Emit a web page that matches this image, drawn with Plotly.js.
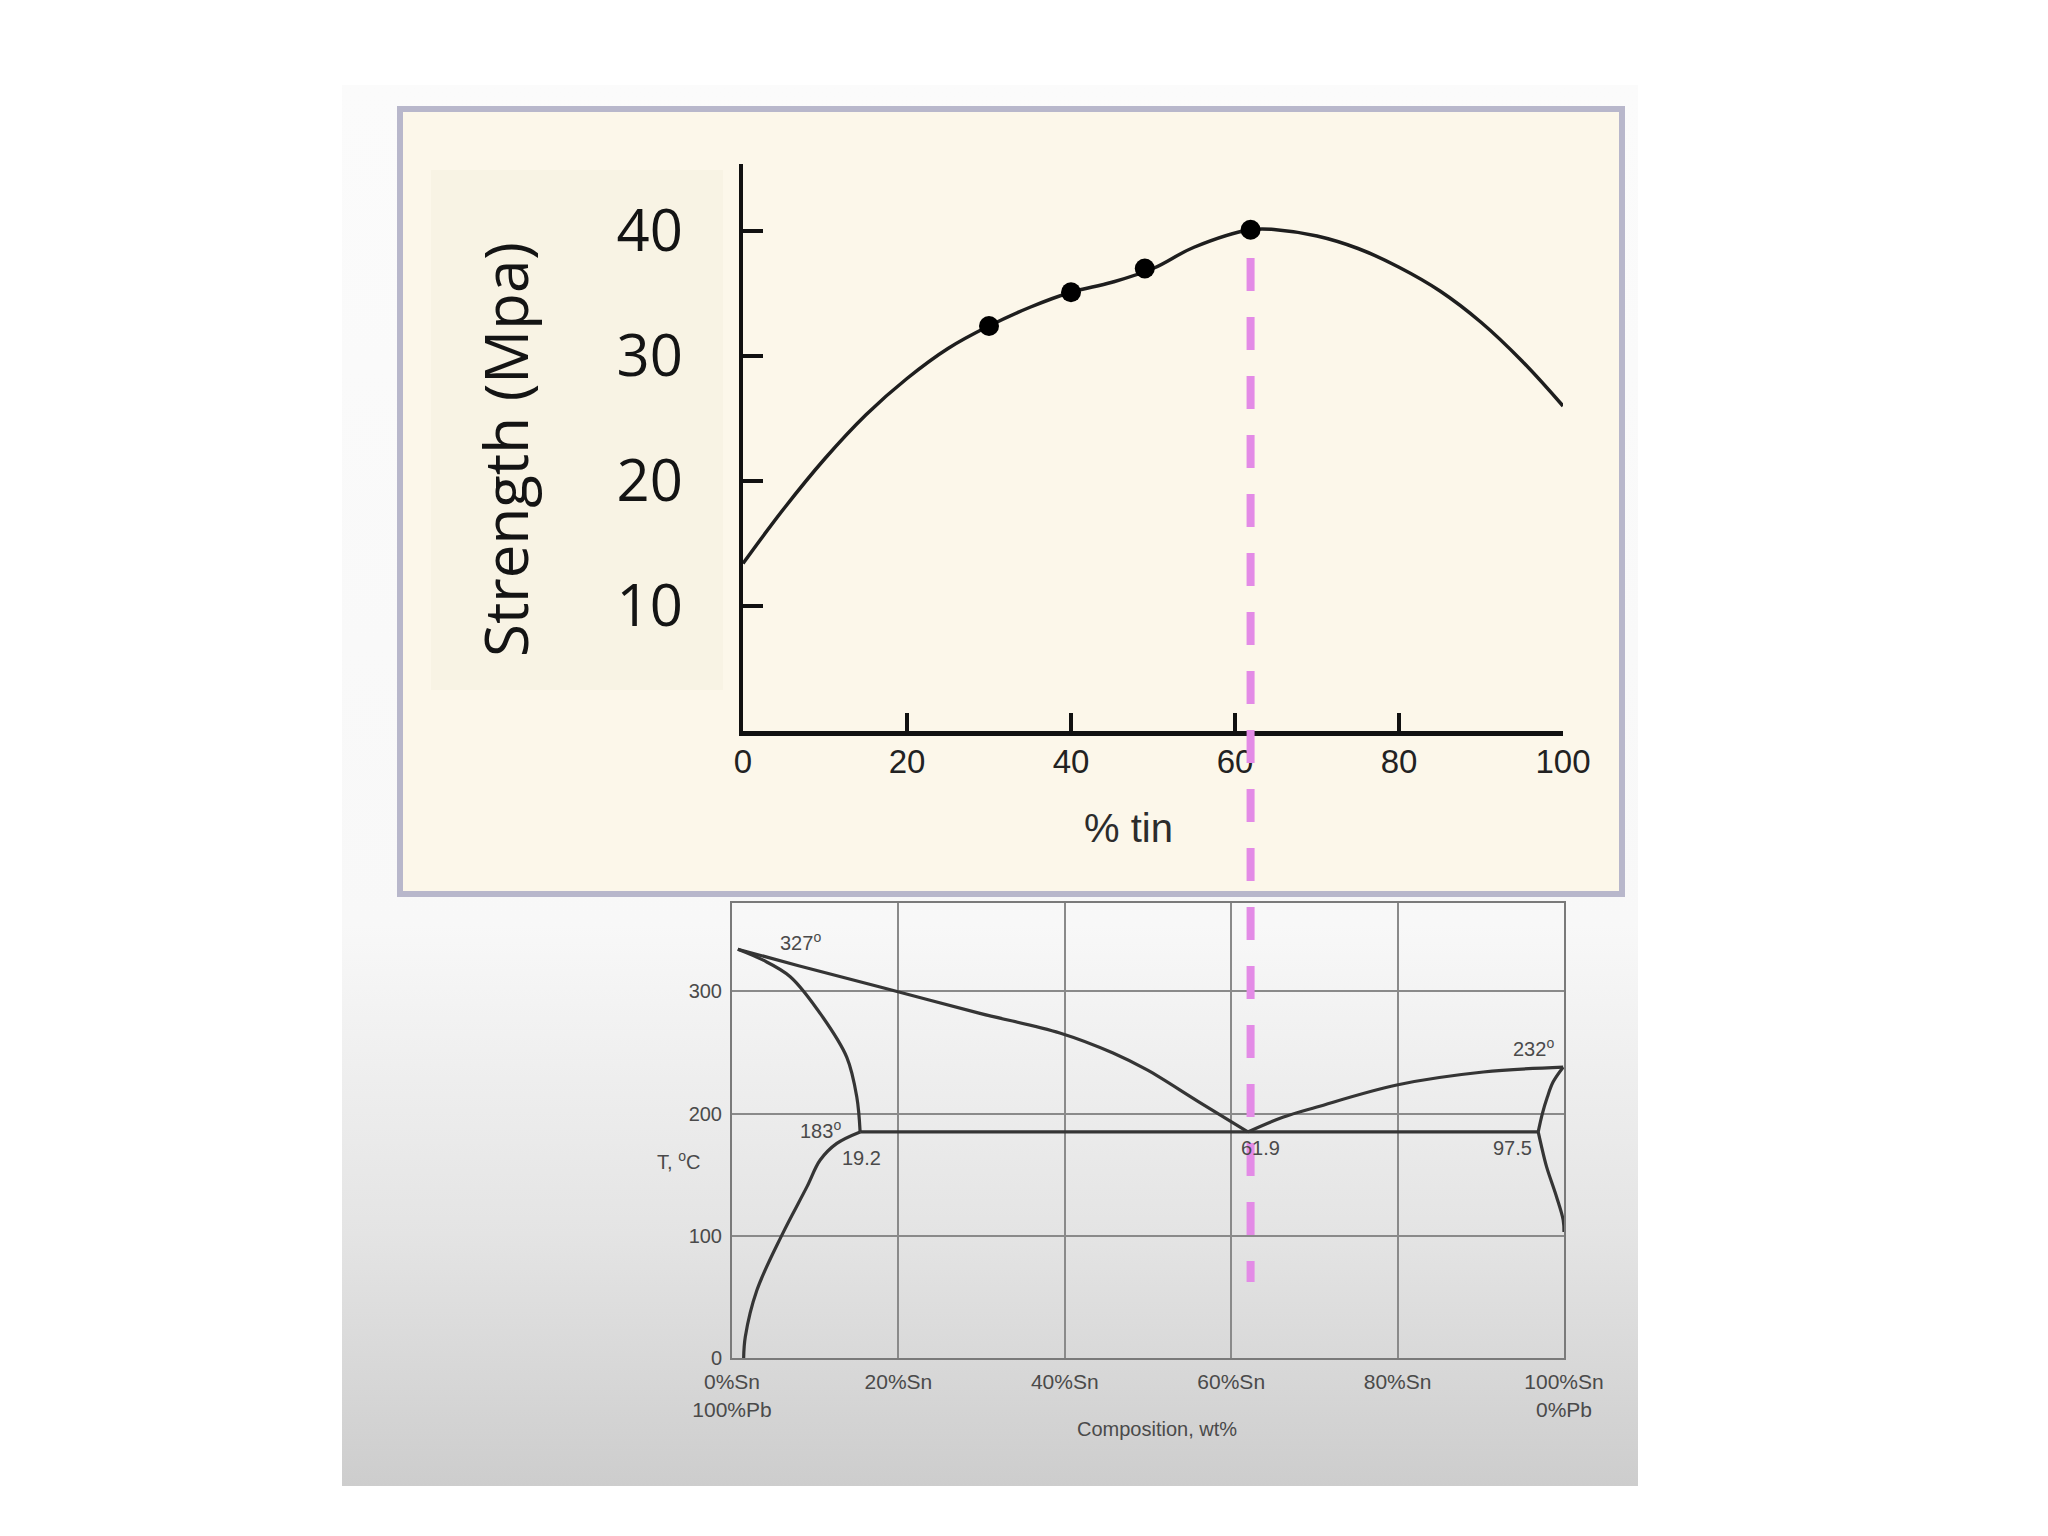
<!DOCTYPE html>
<html>
<head>
<meta charset="utf-8">
<script src="https://cdn.plot.ly/plotly-3.0.1.min.js"></script>
<style>
  html, body { margin: 0; padding: 0; background: #ffffff; }
  #wrap { position: relative; width: 2048px; height: 1536px; overflow: hidden; }
  #slide { position: absolute; left: 342px; top: 85px; width: 1296px; height: 1401px;
           background: linear-gradient(to bottom, #fbfbfb 0%, #f8f8f8 60%, #e4e4e4 82%, #cdcdcd 100%); }
  #chart { position: absolute; left: 0; top: 0; width: 2048px; height: 1536px; }
</style>
</head>
<body>
<div id="wrap">
  <div id="slide"></div>
  <div id="chart"></div>
</div>
<script>
// ---------- Top chart: strength vs % tin ----------
const tinPct   = [0, 5, 10, 15, 20, 25, 30, 35, 40, 45, 50, 55, 61.9, 65, 70, 75, 80, 85, 90, 95, 100];
const strength = [13.4, 17.8, 21.8, 25.3, 28.2, 30.6, 32.4, 33.9, 35.1, 35.9, 37.0, 38.7, 40.1, 40.1, 39.6, 38.6, 37.1, 35.2, 32.7, 29.6, 26.0];
const measuredTin      = [30, 40, 49, 61.9];
const measuredStrength = [32.4, 35.1, 37.0, 40.1];
const strengthTicks = [10, 20, 30, 40];
const tinTicks      = [0, 20, 40, 60, 80, 100];
const eutecticPct   = 61.9;

// ---------- Bottom chart: Pb-Sn phase diagram ----------
const liqPbComp = [0.7, 8, 17.8, 29.8, 39.4, 45.8, 49.9, 56, 62.0];
const liqPbT    = [334.5, 321, 303.6, 282, 266, 249.6, 235.7, 210, 185];
const solPbComp = [0.7, 3.7, 7.0, 10.9, 13.8, 15.0, 15.4];
const solPbT    = [334.5, 325.7, 312, 279, 246, 213.6, 185];
const svPbComp  = [15.4, 12.6, 10.6, 9.0, 6.1, 3.0, 1.6, 1.4];
const svPbT     = [185, 175.6, 162, 140, 102, 55.6, 17.4, 0];
const eutComp   = [15.4, 96.9];
const eutT      = [185, 185];
const liqSnComp = [62.0, 66.2, 70.3, 79.9, 90.3, 99.9];
const liqSnT    = [185, 197, 205.4, 223.4, 234, 238];
const solSnComp = [99.9, 98.7, 98.0, 97.4, 96.9];
const solSnT    = [238, 226, 213.6, 200, 185];
const svSnComp  = [96.9, 97.3, 97.9, 99.1, 99.9, 100];
const svSnT     = [185, 173, 156.6, 132, 113, 103];
const tempTicks = [0, 100, 200, 300];
const compTicks = [0, 20, 40, 60, 80, 100];
const compTickText = ['0%Sn<br>100%Pb', '20%Sn', '40%Sn', '60%Sn', '80%Sn', '100%Sn<br>0%Pb'];
const pointLabels = [
  {comp: 8.2,  T: 340.4, text: '327<sup>o</sup>'},
  {comp: 10.6, T: 186.6, text: '183<sup>o</sup>'},
  {comp: 15.6, T: 163.7, text: '19.2'},
  {comp: 63.5, T: 171.8, text: '61.9'},
  {comp: 93.75,T: 171.8, text: '97.5'},
  {comp: 96.3, T: 253.7, text: '232<sup>o</sup>'}
];

const W = 2048, H = 1536;
const px = v => v / W;
const py = v => 1 - v / H;

const phaseLine = {color: '#353535', width: 3.2};
function phaseTrace(x, y, shape) {
  return {x: x, y: y, xaxis: 'x2', yaxis: 'y2', type: 'scatter', mode: 'lines',
          line: Object.assign({shape: shape || 'spline', smoothing: 1.0}, phaseLine),
          hoverinfo: 'skip', showlegend: false};
}

const traces = [
  {x: tinPct, y: strength, type: 'scatter', mode: 'lines',
   line: {color: '#1e1e1e', width: 3.5, shape: 'spline', smoothing: 1.1}, showlegend: false},
  {x: measuredTin, y: measuredStrength, type: 'scatter', mode: 'markers',
   marker: {color: '#000000', size: 20}, showlegend: false},
  phaseTrace(liqPbComp, liqPbT),
  phaseTrace(solPbComp, solPbT),
  phaseTrace(svPbComp, svPbT),
  phaseTrace(eutComp, eutT, 'linear'),
  phaseTrace(liqSnComp, liqSnT),
  phaseTrace(solSnComp, solSnT),
  phaseTrace(svSnComp, svSnT)
];

const annotations = [
  {text: 'Strength (Mpa)', xref: 'paper', yref: 'paper', x: px(505), y: py(450),
   textangle: -90, showarrow: false, xanchor: 'center', yanchor: 'middle',
   font: {family: 'Open Sans', size: 60, color: '#141414'}},
  {text: '% tin', xref: 'paper', yref: 'paper', x: px(1128), y: py(828),
   showarrow: false, xanchor: 'center', yanchor: 'middle',
   font: {family: 'Liberation Sans', size: 40, color: '#2c2c2c'}},
  {text: 'T, <sup>o</sup>C', xref: 'paper', yref: 'paper', x: px(678), y: py(1160),
   showarrow: false, xanchor: 'center', yanchor: 'middle',
   font: {family: 'Liberation Sans', size: 20, color: '#4a4a4a'}},
  {text: 'Composition, wt%', xref: 'paper', yref: 'paper', x: px(1157), y: py(1429),
   showarrow: false, xanchor: 'center', yanchor: 'middle',
   font: {family: 'Liberation Sans', size: 20, color: '#4a4a4a'}}
];
pointLabels.forEach(p => annotations.push({
  text: p.text, xref: 'x2', yref: 'y2', x: p.comp, y: p.T, showarrow: false,
  xanchor: 'center', yanchor: 'middle',
  font: {family: 'Liberation Sans', size: 20, color: '#4a4a4a'}
}));

const shapes = [
  // cream panel of the top chart
  {type: 'rect', xref: 'paper', yref: 'paper', x0: px(400), x1: px(1622), y0: py(894), y1: py(109),
   fillcolor: '#fcf7ea', line: {color: '#b8b7cb', width: 6}, layer: 'below'},
  {type: 'rect', xref: 'paper', yref: 'paper', x0: px(431), x1: px(723), y0: py(690), y1: py(170),
   fillcolor: '#f8f3e4', line: {width: 0}, layer: 'below'},
  // eutectic composition guide line across both charts
  {type: 'line', xref: 'x', yref: 'paper', x0: eutecticPct, x1: eutecticPct, y0: py(258), y1: py(1282),
   line: {color: '#e38be6', width: 8, dash: '33px,26px'}, layer: 'above'}
];

const layout = {
  width: W, height: H,
  margin: {l: 0, r: 0, t: 0, b: 0},
  paper_bgcolor: 'rgba(0,0,0,0)',
  plot_bgcolor: 'rgba(0,0,0,0)',
  showlegend: false,
  xaxis: {
    domain: [px(743), px(1563)], range: [0, 100], anchor: 'y',
    showline: true, linecolor: '#111111', linewidth: 4.5,
    ticks: 'inside', ticklen: 18, tickwidth: 4, tickcolor: '#111111',
    tickvals: tinTicks, ticktext: tinTicks.map(String),
    tickfont: {family: 'Liberation Sans', size: 33, color: '#222222'},
    ticklabelstandoff: -2,
    showgrid: false, zeroline: false
  },
  yaxis: {
    domain: [py(731), py(164)], range: [0, 45.36], anchor: 'x',
    showline: true, linecolor: '#111111', linewidth: 4.5,
    ticks: 'inside', ticklen: 20, tickwidth: 4, tickcolor: '#111111',
    tickvals: strengthTicks, ticktext: strengthTicks.map(String),
    tickfont: {family: 'Open Sans', size: 58, color: '#141414'},
    ticklabelstandoff: 44,
    showgrid: false, zeroline: false
  },
  xaxis2: {
    domain: [px(732), px(1564)], range: [0, 100], anchor: 'y2',
    showline: true, mirror: true, linecolor: '#7a7a7a', linewidth: 2,
    ticks: '', tickvals: compTicks, ticktext: compTickText,
    tickfont: {family: 'Liberation Sans', size: 21, color: '#4a4a4a'},
    ticklabelstandoff: 4,
    showgrid: true, gridcolor: '#8a8a8a', gridwidth: 2, zeroline: false
  },
  yaxis2: {
    domain: [py(1358), py(903)], range: [0, 372.3], anchor: 'x2',
    showline: true, mirror: true, linecolor: '#7a7a7a', linewidth: 2,
    ticks: '', tickvals: tempTicks, ticktext: tempTicks.map(String),
    tickfont: {family: 'Liberation Sans', size: 20, color: '#4a4a4a'},
    ticklabelstandoff: 4,
    showgrid: true, gridcolor: '#8a8a8a', gridwidth: 2, zeroline: false
  },
  annotations: annotations,
  shapes: shapes
};

Plotly.newPlot('chart', traces, layout, {staticPlot: true, displayModeBar: false});
</script>
</body>
</html>
